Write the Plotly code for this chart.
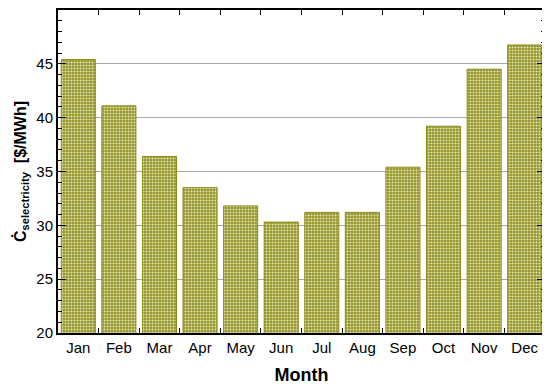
import plotly.graph_objects as go

months = ["Jan", "Feb", "Mar", "Apr", "May", "Jun", "Jul", "Aug", "Sep", "Oct", "Nov", "Dec"]
cost = [45.4, 41.1, 36.4, 33.5, 31.8, 30.3, 31.2, 31.2, 35.4, 39.2, 44.5, 46.75]
y_ticks = [20, 25, 30, 35, 40, 45]

fig = go.Figure()
fig.add_trace(go.Bar(
    x=months, y=cost,
    marker=dict(
        color="#949426",
        line=dict(color="#8c8c1c", width=1),
        pattern=dict(shape=".", bgcolor="#949426", fgcolor="#e2e2b4", size=3, solidity=0.4, fillmode="replace"),
    ),
    width=0.84,
))

# page body has an 8px margin; compensate so the plot lands where the reference has it
fig.update_layout(
    width=542, height=378,
    margin=dict(l=50, r=5, t=0, b=53),
    paper_bgcolor="white", plot_bgcolor="white",
    font=dict(family="Liberation Sans, Arial", size=15, color="black"),
    showlegend=False,
    bargap=0.16,
)
fig.update_xaxes(
    title=dict(text="<b>Month</b>", font=dict(size=18), standoff=13),
    showline=True, linecolor="black", linewidth=2, mirror="ticks",
    ticks="inside", tickson="boundaries", ticklen=5, tickcolor="black",
    showgrid=False,
)
fig.update_yaxes(
    title=dict(text="<b>Ċ<sub>selectricity</sub>  [$/MWh]</b>", font=dict(size=16), standoff=6),
    range=[20, 50], tickvals=y_ticks,
    showline=True, linecolor="black", linewidth=2, mirror="ticks",
    ticks="inside", ticklen=8, tickcolor="black",
    minor=dict(dtick=1, ticks="inside", ticklen=4, tickcolor="black", showgrid=False),
    showgrid=True, gridcolor="#a8a8a8", gridwidth=1,
    zeroline=False,
)

fig.write_html("out.html")
